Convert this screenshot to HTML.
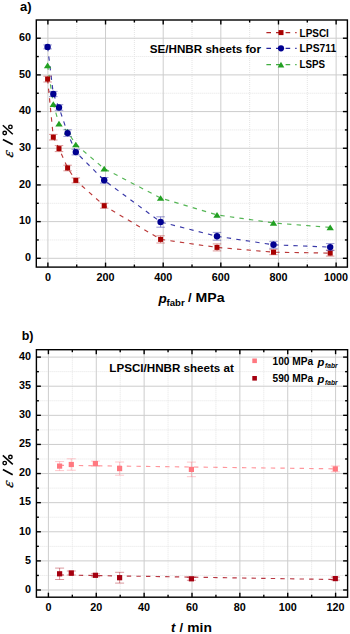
<!DOCTYPE html>
<html><head><meta charset="utf-8"><title>figure</title>
<style>html,body{margin:0;padding:0;background:#fff;} body{width:350px;height:634px;overflow:hidden;font-family:"Liberation Sans", sans-serif;} svg{display:block;}</style>
</head><body>
<svg width="350" height="634" viewBox="0 0 350 634">
<rect width="350" height="634" fill="#fff"/>
<line x1="76.72" y1="20.00" x2="76.72" y2="267.10" stroke="#e4e4e4" stroke-width="1" stroke-dasharray="1 1"/>
<line x1="134.37" y1="20.00" x2="134.37" y2="267.10" stroke="#e4e4e4" stroke-width="1" stroke-dasharray="1 1"/>
<line x1="192.01" y1="20.00" x2="192.01" y2="267.10" stroke="#e4e4e4" stroke-width="1" stroke-dasharray="1 1"/>
<line x1="249.65" y1="20.00" x2="249.65" y2="267.10" stroke="#e4e4e4" stroke-width="1" stroke-dasharray="1 1"/>
<line x1="307.30" y1="20.00" x2="307.30" y2="267.10" stroke="#e4e4e4" stroke-width="1" stroke-dasharray="1 1"/>
<line x1="36.30" y1="239.96" x2="347.40" y2="239.96" stroke="#e4e4e4" stroke-width="1" stroke-dasharray="1 1"/>
<line x1="36.30" y1="203.28" x2="347.40" y2="203.28" stroke="#e4e4e4" stroke-width="1" stroke-dasharray="1 1"/>
<line x1="36.30" y1="166.60" x2="347.40" y2="166.60" stroke="#e4e4e4" stroke-width="1" stroke-dasharray="1 1"/>
<line x1="36.30" y1="129.92" x2="347.40" y2="129.92" stroke="#e4e4e4" stroke-width="1" stroke-dasharray="1 1"/>
<line x1="36.30" y1="93.24" x2="347.40" y2="93.24" stroke="#e4e4e4" stroke-width="1" stroke-dasharray="1 1"/>
<line x1="36.30" y1="56.56" x2="347.40" y2="56.56" stroke="#e4e4e4" stroke-width="1" stroke-dasharray="1 1"/>
<line x1="47.90" y1="20.00" x2="47.90" y2="267.10" stroke="#cdcdcd" stroke-width="1"/>
<line x1="105.54" y1="20.00" x2="105.54" y2="267.10" stroke="#cdcdcd" stroke-width="1"/>
<line x1="163.19" y1="20.00" x2="163.19" y2="267.10" stroke="#cdcdcd" stroke-width="1"/>
<line x1="220.83" y1="20.00" x2="220.83" y2="267.10" stroke="#cdcdcd" stroke-width="1"/>
<line x1="278.48" y1="20.00" x2="278.48" y2="267.10" stroke="#cdcdcd" stroke-width="1"/>
<line x1="336.12" y1="20.00" x2="336.12" y2="267.10" stroke="#cdcdcd" stroke-width="1"/>
<line x1="36.30" y1="258.30" x2="347.40" y2="258.30" stroke="#cdcdcd" stroke-width="1"/>
<line x1="36.30" y1="221.62" x2="347.40" y2="221.62" stroke="#cdcdcd" stroke-width="1"/>
<line x1="36.30" y1="184.94" x2="347.40" y2="184.94" stroke="#cdcdcd" stroke-width="1"/>
<line x1="36.30" y1="148.26" x2="347.40" y2="148.26" stroke="#cdcdcd" stroke-width="1"/>
<line x1="36.30" y1="111.58" x2="347.40" y2="111.58" stroke="#cdcdcd" stroke-width="1"/>
<line x1="36.30" y1="74.90" x2="347.40" y2="74.90" stroke="#cdcdcd" stroke-width="1"/>
<line x1="36.30" y1="38.22" x2="347.40" y2="38.22" stroke="#cdcdcd" stroke-width="1"/>
<path d="M47.60,79.10 L53.30,137.20 L59.00,148.60 L67.60,168.00 L75.80,180.40 L104.20,205.70 L160.60,239.40 L217.00,247.40 L273.50,252.20 L330.20,253.10" fill="none" stroke="#a80000" stroke-width="1.15" stroke-dasharray="4.4 5.2" opacity="0.78"/>
<path d="M47.60,65.40 L53.30,104.10 L59.00,123.60 L67.60,131.60 L75.80,144.50 L104.20,168.60 L160.60,198.00 L217.00,214.90 L273.50,222.90 L330.20,227.40" fill="none" stroke="#22a022" stroke-width="1.15" stroke-dasharray="4.4 5.2" opacity="0.78"/>
<path d="M47.60,46.90 L53.30,94.00 L59.00,107.50 L67.60,133.10 L75.80,152.10 L104.20,180.30 L160.60,222.00 L217.00,236.30 L273.50,244.80 L330.20,247.10" fill="none" stroke="#000090" stroke-width="1.15" stroke-dasharray="4.4 5.2" opacity="0.78"/>
<path d="M47.60,76.20 V82.00 M43.35,76.20 H51.85 M43.35,82.00 H51.85" stroke="#a80000" stroke-width="0.75" fill="none" opacity="0.55"/>
<rect x="45.10" y="76.60" width="5.00" height="5.00" fill="#a80000"/>
<path d="M53.30,134.40 V140.00 M49.05,134.40 H57.55 M49.05,140.00 H57.55" stroke="#a80000" stroke-width="0.75" fill="none" opacity="0.55"/>
<rect x="50.80" y="134.70" width="5.00" height="5.00" fill="#a80000"/>
<path d="M59.00,145.60 V151.60 M54.75,145.60 H63.25 M54.75,151.60 H63.25" stroke="#a80000" stroke-width="0.75" fill="none" opacity="0.55"/>
<rect x="56.50" y="146.10" width="5.00" height="5.00" fill="#a80000"/>
<path d="M67.60,165.20 V170.80 M63.35,165.20 H71.85 M63.35,170.80 H71.85" stroke="#a80000" stroke-width="0.75" fill="none" opacity="0.55"/>
<rect x="65.10" y="165.50" width="5.00" height="5.00" fill="#a80000"/>
<path d="M75.80,177.90 V182.90 M71.55,177.90 H80.05 M71.55,182.90 H80.05" stroke="#a80000" stroke-width="0.75" fill="none" opacity="0.55"/>
<rect x="73.30" y="177.90" width="5.00" height="5.00" fill="#a80000"/>
<path d="M104.20,203.20 V208.20 M99.95,203.20 H108.45 M99.95,208.20 H108.45" stroke="#a80000" stroke-width="0.75" fill="none" opacity="0.55"/>
<rect x="101.70" y="203.20" width="5.00" height="5.00" fill="#a80000"/>
<path d="M160.60,235.80 V243.00 M156.35,235.80 H164.85 M156.35,243.00 H164.85" stroke="#a80000" stroke-width="0.75" fill="none" opacity="0.55"/>
<rect x="158.10" y="236.90" width="5.00" height="5.00" fill="#a80000"/>
<path d="M217.00,243.90 V250.90 M212.75,243.90 H221.25 M212.75,250.90 H221.25" stroke="#a80000" stroke-width="0.75" fill="none" opacity="0.55"/>
<rect x="214.50" y="244.90" width="5.00" height="5.00" fill="#a80000"/>
<path d="M273.50,249.70 V254.70 M269.25,249.70 H277.75 M269.25,254.70 H277.75" stroke="#a80000" stroke-width="0.75" fill="none" opacity="0.55"/>
<rect x="271.00" y="249.70" width="5.00" height="5.00" fill="#a80000"/>
<path d="M330.20,250.10 V256.10 M325.95,250.10 H334.45 M325.95,256.10 H334.45" stroke="#a80000" stroke-width="0.75" fill="none" opacity="0.55"/>
<rect x="327.70" y="250.60" width="5.00" height="5.00" fill="#a80000"/>
<path d="M47.60,62.55 L51.30,68.25 L43.90,68.25 Z" fill="#22a022"/>
<path d="M53.30,101.25 L57.00,106.95 L49.60,106.95 Z" fill="#22a022"/>
<path d="M59.00,120.75 L62.70,126.45 L55.30,126.45 Z" fill="#22a022"/>
<path d="M67.60,128.75 L71.30,134.45 L63.90,134.45 Z" fill="#22a022"/>
<path d="M75.80,141.65 L79.50,147.35 L72.10,147.35 Z" fill="#22a022"/>
<path d="M104.20,165.75 L107.90,171.45 L100.50,171.45 Z" fill="#22a022"/>
<path d="M160.60,195.15 L164.30,200.85 L156.90,200.85 Z" fill="#22a022"/>
<path d="M217.00,212.05 L220.70,217.75 L213.30,217.75 Z" fill="#22a022"/>
<path d="M273.50,220.05 L277.20,225.75 L269.80,225.75 Z" fill="#22a022"/>
<path d="M330.20,224.55 L333.90,230.25 L326.50,230.25 Z" fill="#22a022"/>
<path d="M47.60,44.90 V48.90 M43.35,44.90 H51.85 M43.35,48.90 H51.85" stroke="#000090" stroke-width="0.75" fill="none" opacity="0.55"/>
<circle cx="47.60" cy="46.90" r="3.20" fill="#000090"/>
<path d="M53.30,91.40 V96.60 M49.05,91.40 H57.55 M49.05,96.60 H57.55" stroke="#000090" stroke-width="0.75" fill="none" opacity="0.55"/>
<circle cx="53.30" cy="94.00" r="3.20" fill="#000090"/>
<path d="M59.00,104.70 V110.30 M54.75,104.70 H63.25 M54.75,110.30 H63.25" stroke="#000090" stroke-width="0.75" fill="none" opacity="0.55"/>
<circle cx="59.00" cy="107.50" r="3.20" fill="#000090"/>
<path d="M67.60,129.80 V136.40 M63.35,129.80 H71.85 M63.35,136.40 H71.85" stroke="#000090" stroke-width="0.75" fill="none" opacity="0.55"/>
<circle cx="67.60" cy="133.10" r="3.20" fill="#000090"/>
<path d="M75.80,149.30 V154.90 M71.55,149.30 H80.05 M71.55,154.90 H80.05" stroke="#000090" stroke-width="0.75" fill="none" opacity="0.55"/>
<circle cx="75.80" cy="152.10" r="3.20" fill="#000090"/>
<path d="M104.20,177.50 V183.10 M99.95,177.50 H108.45 M99.95,183.10 H108.45" stroke="#000090" stroke-width="0.75" fill="none" opacity="0.55"/>
<circle cx="104.20" cy="180.30" r="3.20" fill="#000090"/>
<path d="M160.60,216.80 V227.20 M156.35,216.80 H164.85 M156.35,227.20 H164.85" stroke="#000090" stroke-width="0.75" fill="none" opacity="0.55"/>
<circle cx="160.60" cy="222.00" r="3.20" fill="#000090"/>
<path d="M217.00,232.40 V240.20 M212.75,232.40 H221.25 M212.75,240.20 H221.25" stroke="#000090" stroke-width="0.75" fill="none" opacity="0.55"/>
<circle cx="217.00" cy="236.30" r="3.20" fill="#000090"/>
<path d="M273.50,241.30 V248.30 M269.25,241.30 H277.75 M269.25,248.30 H277.75" stroke="#000090" stroke-width="0.75" fill="none" opacity="0.55"/>
<circle cx="273.50" cy="244.80" r="3.20" fill="#000090"/>
<path d="M330.20,243.60 V250.60 M325.95,243.60 H334.45 M325.95,250.60 H334.45" stroke="#000090" stroke-width="0.75" fill="none" opacity="0.55"/>
<circle cx="330.20" cy="247.10" r="3.20" fill="#000090"/>
<rect x="36.30" y="20.00" width="311.10" height="247.10" fill="none" stroke="#000" stroke-width="1.4"/>
<line x1="47.90" y1="267.10" x2="47.90" y2="262.60" stroke="#000" stroke-width="1.4"/>
<line x1="47.90" y1="20.00" x2="47.90" y2="24.50" stroke="#000" stroke-width="1.4"/>
<line x1="105.54" y1="267.10" x2="105.54" y2="262.60" stroke="#000" stroke-width="1.4"/>
<line x1="105.54" y1="20.00" x2="105.54" y2="24.50" stroke="#000" stroke-width="1.4"/>
<line x1="163.19" y1="267.10" x2="163.19" y2="262.60" stroke="#000" stroke-width="1.4"/>
<line x1="163.19" y1="20.00" x2="163.19" y2="24.50" stroke="#000" stroke-width="1.4"/>
<line x1="220.83" y1="267.10" x2="220.83" y2="262.60" stroke="#000" stroke-width="1.4"/>
<line x1="220.83" y1="20.00" x2="220.83" y2="24.50" stroke="#000" stroke-width="1.4"/>
<line x1="278.48" y1="267.10" x2="278.48" y2="262.60" stroke="#000" stroke-width="1.4"/>
<line x1="278.48" y1="20.00" x2="278.48" y2="24.50" stroke="#000" stroke-width="1.4"/>
<line x1="336.12" y1="267.10" x2="336.12" y2="262.60" stroke="#000" stroke-width="1.4"/>
<line x1="336.12" y1="20.00" x2="336.12" y2="24.50" stroke="#000" stroke-width="1.4"/>
<line x1="76.72" y1="267.10" x2="76.72" y2="264.60" stroke="#000" stroke-width="1.4"/>
<line x1="76.72" y1="20.00" x2="76.72" y2="22.50" stroke="#000" stroke-width="1.4"/>
<line x1="134.37" y1="267.10" x2="134.37" y2="264.60" stroke="#000" stroke-width="1.4"/>
<line x1="134.37" y1="20.00" x2="134.37" y2="22.50" stroke="#000" stroke-width="1.4"/>
<line x1="192.01" y1="267.10" x2="192.01" y2="264.60" stroke="#000" stroke-width="1.4"/>
<line x1="192.01" y1="20.00" x2="192.01" y2="22.50" stroke="#000" stroke-width="1.4"/>
<line x1="249.65" y1="267.10" x2="249.65" y2="264.60" stroke="#000" stroke-width="1.4"/>
<line x1="249.65" y1="20.00" x2="249.65" y2="22.50" stroke="#000" stroke-width="1.4"/>
<line x1="307.30" y1="267.10" x2="307.30" y2="264.60" stroke="#000" stroke-width="1.4"/>
<line x1="307.30" y1="20.00" x2="307.30" y2="22.50" stroke="#000" stroke-width="1.4"/>
<line x1="36.30" y1="258.30" x2="40.80" y2="258.30" stroke="#000" stroke-width="1.4"/>
<line x1="347.40" y1="258.30" x2="342.90" y2="258.30" stroke="#000" stroke-width="1.4"/>
<line x1="36.30" y1="221.62" x2="40.80" y2="221.62" stroke="#000" stroke-width="1.4"/>
<line x1="347.40" y1="221.62" x2="342.90" y2="221.62" stroke="#000" stroke-width="1.4"/>
<line x1="36.30" y1="184.94" x2="40.80" y2="184.94" stroke="#000" stroke-width="1.4"/>
<line x1="347.40" y1="184.94" x2="342.90" y2="184.94" stroke="#000" stroke-width="1.4"/>
<line x1="36.30" y1="148.26" x2="40.80" y2="148.26" stroke="#000" stroke-width="1.4"/>
<line x1="347.40" y1="148.26" x2="342.90" y2="148.26" stroke="#000" stroke-width="1.4"/>
<line x1="36.30" y1="111.58" x2="40.80" y2="111.58" stroke="#000" stroke-width="1.4"/>
<line x1="347.40" y1="111.58" x2="342.90" y2="111.58" stroke="#000" stroke-width="1.4"/>
<line x1="36.30" y1="74.90" x2="40.80" y2="74.90" stroke="#000" stroke-width="1.4"/>
<line x1="347.40" y1="74.90" x2="342.90" y2="74.90" stroke="#000" stroke-width="1.4"/>
<line x1="36.30" y1="38.22" x2="40.80" y2="38.22" stroke="#000" stroke-width="1.4"/>
<line x1="347.40" y1="38.22" x2="342.90" y2="38.22" stroke="#000" stroke-width="1.4"/>
<line x1="36.30" y1="239.96" x2="38.80" y2="239.96" stroke="#000" stroke-width="1.4"/>
<line x1="347.40" y1="239.96" x2="344.90" y2="239.96" stroke="#000" stroke-width="1.4"/>
<line x1="36.30" y1="203.28" x2="38.80" y2="203.28" stroke="#000" stroke-width="1.4"/>
<line x1="347.40" y1="203.28" x2="344.90" y2="203.28" stroke="#000" stroke-width="1.4"/>
<line x1="36.30" y1="166.60" x2="38.80" y2="166.60" stroke="#000" stroke-width="1.4"/>
<line x1="347.40" y1="166.60" x2="344.90" y2="166.60" stroke="#000" stroke-width="1.4"/>
<line x1="36.30" y1="129.92" x2="38.80" y2="129.92" stroke="#000" stroke-width="1.4"/>
<line x1="347.40" y1="129.92" x2="344.90" y2="129.92" stroke="#000" stroke-width="1.4"/>
<line x1="36.30" y1="93.24" x2="38.80" y2="93.24" stroke="#000" stroke-width="1.4"/>
<line x1="347.40" y1="93.24" x2="344.90" y2="93.24" stroke="#000" stroke-width="1.4"/>
<line x1="36.30" y1="56.56" x2="38.80" y2="56.56" stroke="#000" stroke-width="1.4"/>
<line x1="347.40" y1="56.56" x2="344.90" y2="56.56" stroke="#000" stroke-width="1.4"/>
<text x="31.00" y="261.10" font-family='"Liberation Sans", sans-serif' font-size="10.8" font-weight="bold" font-style="normal" text-anchor="end" >0</text>
<text x="31.00" y="224.42" font-family='"Liberation Sans", sans-serif' font-size="10.8" font-weight="bold" font-style="normal" text-anchor="end" >10</text>
<text x="31.00" y="187.74" font-family='"Liberation Sans", sans-serif' font-size="10.8" font-weight="bold" font-style="normal" text-anchor="end" >20</text>
<text x="31.00" y="151.06" font-family='"Liberation Sans", sans-serif' font-size="10.8" font-weight="bold" font-style="normal" text-anchor="end" >30</text>
<text x="31.00" y="114.38" font-family='"Liberation Sans", sans-serif' font-size="10.8" font-weight="bold" font-style="normal" text-anchor="end" >40</text>
<text x="31.00" y="77.70" font-family='"Liberation Sans", sans-serif' font-size="10.8" font-weight="bold" font-style="normal" text-anchor="end" >50</text>
<text x="31.00" y="41.02" font-family='"Liberation Sans", sans-serif' font-size="10.8" font-weight="bold" font-style="normal" text-anchor="end" >60</text>
<text x="47.90" y="280.60" font-family='"Liberation Sans", sans-serif' font-size="10.8" font-weight="bold" font-style="normal" text-anchor="middle" >0</text>
<text x="105.54" y="280.60" font-family='"Liberation Sans", sans-serif' font-size="10.8" font-weight="bold" font-style="normal" text-anchor="middle" >200</text>
<text x="163.19" y="280.60" font-family='"Liberation Sans", sans-serif' font-size="10.8" font-weight="bold" font-style="normal" text-anchor="middle" >400</text>
<text x="220.83" y="280.60" font-family='"Liberation Sans", sans-serif' font-size="10.8" font-weight="bold" font-style="normal" text-anchor="middle" >600</text>
<text x="278.48" y="280.60" font-family='"Liberation Sans", sans-serif' font-size="10.8" font-weight="bold" font-style="normal" text-anchor="middle" >800</text>
<text x="336.12" y="280.60" font-family='"Liberation Sans", sans-serif' font-size="10.8" font-weight="bold" font-style="normal" text-anchor="middle" >1000</text>
<line x1="266.4" y1="32.6" x2="296.6" y2="32.6" stroke="#a80000" stroke-width="1.25" stroke-dasharray="4.6 5.0" opacity="0.85"/>
<rect x="278.50" y="30.10" width="5.00" height="5.00" fill="#a80000"/>
<text x="299.60" y="36.70" font-family='"Liberation Sans", sans-serif' font-size="10.6" font-weight="bold" font-style="normal" text-anchor="start" textLength="29.3" lengthAdjust="spacingAndGlyphs">LPSCI</text>
<line x1="266.4" y1="48.3" x2="296.6" y2="48.3" stroke="#000090" stroke-width="1.25" stroke-dasharray="4.6 5.0" opacity="0.85"/>
<circle cx="281.00" cy="48.30" r="3.10" fill="#000090"/>
<text x="299.60" y="52.40" font-family='"Liberation Sans", sans-serif' font-size="10.6" font-weight="bold" font-style="normal" text-anchor="start" textLength="36.5" lengthAdjust="spacingAndGlyphs">LPS711</text>
<line x1="266.4" y1="64.6" x2="296.6" y2="64.6" stroke="#22a022" stroke-width="1.25" stroke-dasharray="4.6 5.0" opacity="0.85"/>
<path d="M281.00,61.80 L284.30,67.40 L277.70,67.40 Z" fill="#22a022"/>
<text x="299.60" y="68.10" font-family='"Liberation Sans", sans-serif' font-size="10.6" font-weight="bold" font-style="normal" text-anchor="start" textLength="25.5" lengthAdjust="spacingAndGlyphs">LSPS</text>
<text x="149.80" y="52.70" font-family='"Liberation Sans", sans-serif' font-size="10.9" font-weight="bold" font-style="normal" text-anchor="start" textLength="111.2" lengthAdjust="spacingAndGlyphs">SE/HNBR sheets for</text>
<text x="20.10" y="10.80" font-family='"Liberation Sans", sans-serif' font-size="13" font-weight="bold" font-style="normal" text-anchor="start" >a)</text>
<text x="158.40" y="303.30" font-family='"Liberation Sans", sans-serif' font-size="13.5" font-weight="bold" font-style="italic" text-anchor="start" >p</text>
<text x="166.60" y="305.70" font-family='"Liberation Sans", sans-serif' font-size="9.6" font-weight="bold" font-style="normal" text-anchor="start" >fabr</text>
<text x="188.00" y="302.00" font-family='"Liberation Sans", sans-serif' font-size="13" font-weight="bold" font-style="normal" text-anchor="start" >/</text>
<text x="195.60" y="302.00" font-family='"Liberation Sans", sans-serif' font-size="13" font-weight="bold" font-style="normal" text-anchor="start" textLength="29.0" lengthAdjust="spacingAndGlyphs">MPa</text>
<g transform="translate(13.40,157.20) rotate(-90)">
<text x="-0.9" y="0" transform="skewX(-14) scale(1,0.92)" font-family='"Liberation Serif", serif' font-style="italic" font-size="16" stroke="#000" stroke-width="0.25">ε</text>
</g>
<line x1="2.9" y1="139.50" x2="12.7" y2="144.60" stroke="#000" stroke-width="1.7"/>
<line x1="2.8" y1="125.30" x2="12.8" y2="134.30" stroke="#000" stroke-width="1.5"/>
<circle cx="10.4" cy="126.90" r="1.75" fill="none" stroke="#000" stroke-width="1.4"/>
<circle cx="4.7" cy="133.00" r="1.75" fill="none" stroke="#000" stroke-width="1.4"/>
<line x1="72.33" y1="349.70" x2="72.33" y2="597.20" stroke="#e4e4e4" stroke-width="1" stroke-dasharray="1 1"/>
<line x1="120.20" y1="349.70" x2="120.20" y2="597.20" stroke="#e4e4e4" stroke-width="1" stroke-dasharray="1 1"/>
<line x1="168.06" y1="349.70" x2="168.06" y2="597.20" stroke="#e4e4e4" stroke-width="1" stroke-dasharray="1 1"/>
<line x1="215.93" y1="349.70" x2="215.93" y2="597.20" stroke="#e4e4e4" stroke-width="1" stroke-dasharray="1 1"/>
<line x1="263.80" y1="349.70" x2="263.80" y2="597.20" stroke="#e4e4e4" stroke-width="1" stroke-dasharray="1 1"/>
<line x1="311.66" y1="349.70" x2="311.66" y2="597.20" stroke="#e4e4e4" stroke-width="1" stroke-dasharray="1 1"/>
<line x1="36.40" y1="575.44" x2="347.60" y2="575.44" stroke="#e4e4e4" stroke-width="1" stroke-dasharray="1 1"/>
<line x1="36.40" y1="546.33" x2="347.60" y2="546.33" stroke="#e4e4e4" stroke-width="1" stroke-dasharray="1 1"/>
<line x1="36.40" y1="517.22" x2="347.60" y2="517.22" stroke="#e4e4e4" stroke-width="1" stroke-dasharray="1 1"/>
<line x1="36.40" y1="488.11" x2="347.60" y2="488.11" stroke="#e4e4e4" stroke-width="1" stroke-dasharray="1 1"/>
<line x1="36.40" y1="458.99" x2="347.60" y2="458.99" stroke="#e4e4e4" stroke-width="1" stroke-dasharray="1 1"/>
<line x1="36.40" y1="429.88" x2="347.60" y2="429.88" stroke="#e4e4e4" stroke-width="1" stroke-dasharray="1 1"/>
<line x1="36.40" y1="400.77" x2="347.60" y2="400.77" stroke="#e4e4e4" stroke-width="1" stroke-dasharray="1 1"/>
<line x1="36.40" y1="371.66" x2="347.60" y2="371.66" stroke="#e4e4e4" stroke-width="1" stroke-dasharray="1 1"/>
<line x1="48.40" y1="349.70" x2="48.40" y2="597.20" stroke="#cdcdcd" stroke-width="1"/>
<line x1="96.27" y1="349.70" x2="96.27" y2="597.20" stroke="#cdcdcd" stroke-width="1"/>
<line x1="144.13" y1="349.70" x2="144.13" y2="597.20" stroke="#cdcdcd" stroke-width="1"/>
<line x1="192.00" y1="349.70" x2="192.00" y2="597.20" stroke="#cdcdcd" stroke-width="1"/>
<line x1="239.86" y1="349.70" x2="239.86" y2="597.20" stroke="#cdcdcd" stroke-width="1"/>
<line x1="287.73" y1="349.70" x2="287.73" y2="597.20" stroke="#cdcdcd" stroke-width="1"/>
<line x1="335.60" y1="349.70" x2="335.60" y2="597.20" stroke="#cdcdcd" stroke-width="1"/>
<line x1="36.40" y1="590.00" x2="347.60" y2="590.00" stroke="#cdcdcd" stroke-width="1"/>
<line x1="36.40" y1="560.89" x2="347.60" y2="560.89" stroke="#cdcdcd" stroke-width="1"/>
<line x1="36.40" y1="531.77" x2="347.60" y2="531.77" stroke="#cdcdcd" stroke-width="1"/>
<line x1="36.40" y1="502.66" x2="347.60" y2="502.66" stroke="#cdcdcd" stroke-width="1"/>
<line x1="36.40" y1="473.55" x2="347.60" y2="473.55" stroke="#cdcdcd" stroke-width="1"/>
<line x1="36.40" y1="444.44" x2="347.60" y2="444.44" stroke="#cdcdcd" stroke-width="1"/>
<line x1="36.40" y1="415.33" x2="347.60" y2="415.33" stroke="#cdcdcd" stroke-width="1"/>
<line x1="36.40" y1="386.21" x2="347.60" y2="386.21" stroke="#cdcdcd" stroke-width="1"/>
<line x1="36.40" y1="357.10" x2="347.60" y2="357.10" stroke="#cdcdcd" stroke-width="1"/>
<path d="M59.60,465.30 L335.30,468.85" fill="none" stroke="#ff7880" stroke-width="1.15" stroke-dasharray="4.4 5.2" opacity="0.78"/>
<path d="M59.60,574.92 L335.30,579.56" fill="none" stroke="#a50010" stroke-width="1.15" stroke-dasharray="4.4 5.2" opacity="0.78"/>
<path d="M59.60,461.60 V470.60 M55.10,461.60 H64.10 M55.10,470.60 H64.10" stroke="#ff7880" stroke-width="0.75" fill="none" opacity="0.55"/>
<rect x="57.00" y="463.50" width="5.20" height="5.20" fill="#ff7880"/>
<path d="M71.30,458.80 V470.20 M66.80,458.80 H75.80 M66.80,470.20 H75.80" stroke="#ff7880" stroke-width="0.75" fill="none" opacity="0.55"/>
<rect x="68.70" y="461.90" width="5.20" height="5.20" fill="#ff7880"/>
<path d="M95.40,461.10 V466.10 M90.90,461.10 H99.90 M90.90,466.10 H99.90" stroke="#ff7880" stroke-width="0.75" fill="none" opacity="0.55"/>
<rect x="92.80" y="461.00" width="5.20" height="5.20" fill="#ff7880"/>
<path d="M119.60,462.00 V475.20 M115.10,462.00 H124.10 M115.10,475.20 H124.10" stroke="#ff7880" stroke-width="0.75" fill="none" opacity="0.55"/>
<rect x="117.00" y="466.00" width="5.20" height="5.20" fill="#ff7880"/>
<path d="M191.40,462.10 V476.70 M186.90,462.10 H195.90 M186.90,476.70 H195.90" stroke="#ff7880" stroke-width="0.75" fill="none" opacity="0.55"/>
<rect x="188.80" y="466.80" width="5.20" height="5.20" fill="#ff7880"/>
<path d="M335.30,466.00 V471.80 M330.80,466.00 H339.80 M330.80,471.80 H339.80" stroke="#ff7880" stroke-width="0.75" fill="none" opacity="0.55"/>
<rect x="332.70" y="466.30" width="5.20" height="5.20" fill="#ff7880"/>
<path d="M59.60,568.10 V579.50 M55.10,568.10 H64.10 M55.10,579.50 H64.10" stroke="#a50010" stroke-width="0.75" fill="none" opacity="0.55"/>
<rect x="57.00" y="571.20" width="5.20" height="5.20" fill="#a50010"/>
<path d="M71.30,571.00 V575.00 M66.80,571.00 H75.80 M66.80,575.00 H75.80" stroke="#a50010" stroke-width="0.75" fill="none" opacity="0.55"/>
<rect x="68.70" y="570.40" width="5.20" height="5.20" fill="#a50010"/>
<path d="M95.40,573.80 V576.80 M90.90,573.80 H99.90 M90.90,576.80 H99.90" stroke="#a50010" stroke-width="0.75" fill="none" opacity="0.55"/>
<rect x="92.80" y="572.70" width="5.20" height="5.20" fill="#a50010"/>
<path d="M119.60,572.30 V583.10 M115.10,572.30 H124.10 M115.10,583.10 H124.10" stroke="#a50010" stroke-width="0.75" fill="none" opacity="0.55"/>
<rect x="117.00" y="575.10" width="5.20" height="5.20" fill="#a50010"/>
<path d="M191.40,577.30 V580.30 M186.90,577.30 H195.90 M186.90,580.30 H195.90" stroke="#a50010" stroke-width="0.75" fill="none" opacity="0.55"/>
<rect x="188.80" y="576.20" width="5.20" height="5.20" fill="#a50010"/>
<path d="M335.30,577.10 V580.10 M330.80,577.10 H339.80 M330.80,580.10 H339.80" stroke="#a50010" stroke-width="0.75" fill="none" opacity="0.55"/>
<rect x="332.70" y="576.00" width="5.20" height="5.20" fill="#a50010"/>
<rect x="36.40" y="349.70" width="311.20" height="247.50" fill="none" stroke="#000" stroke-width="1.4"/>
<line x1="48.40" y1="597.20" x2="48.40" y2="592.70" stroke="#000" stroke-width="1.4"/>
<line x1="48.40" y1="349.70" x2="48.40" y2="354.20" stroke="#000" stroke-width="1.4"/>
<line x1="96.27" y1="597.20" x2="96.27" y2="592.70" stroke="#000" stroke-width="1.4"/>
<line x1="96.27" y1="349.70" x2="96.27" y2="354.20" stroke="#000" stroke-width="1.4"/>
<line x1="144.13" y1="597.20" x2="144.13" y2="592.70" stroke="#000" stroke-width="1.4"/>
<line x1="144.13" y1="349.70" x2="144.13" y2="354.20" stroke="#000" stroke-width="1.4"/>
<line x1="192.00" y1="597.20" x2="192.00" y2="592.70" stroke="#000" stroke-width="1.4"/>
<line x1="192.00" y1="349.70" x2="192.00" y2="354.20" stroke="#000" stroke-width="1.4"/>
<line x1="239.86" y1="597.20" x2="239.86" y2="592.70" stroke="#000" stroke-width="1.4"/>
<line x1="239.86" y1="349.70" x2="239.86" y2="354.20" stroke="#000" stroke-width="1.4"/>
<line x1="287.73" y1="597.20" x2="287.73" y2="592.70" stroke="#000" stroke-width="1.4"/>
<line x1="287.73" y1="349.70" x2="287.73" y2="354.20" stroke="#000" stroke-width="1.4"/>
<line x1="335.60" y1="597.20" x2="335.60" y2="592.70" stroke="#000" stroke-width="1.4"/>
<line x1="335.60" y1="349.70" x2="335.60" y2="354.20" stroke="#000" stroke-width="1.4"/>
<line x1="72.33" y1="597.20" x2="72.33" y2="594.70" stroke="#000" stroke-width="1.4"/>
<line x1="72.33" y1="349.70" x2="72.33" y2="352.20" stroke="#000" stroke-width="1.4"/>
<line x1="120.20" y1="597.20" x2="120.20" y2="594.70" stroke="#000" stroke-width="1.4"/>
<line x1="120.20" y1="349.70" x2="120.20" y2="352.20" stroke="#000" stroke-width="1.4"/>
<line x1="168.06" y1="597.20" x2="168.06" y2="594.70" stroke="#000" stroke-width="1.4"/>
<line x1="168.06" y1="349.70" x2="168.06" y2="352.20" stroke="#000" stroke-width="1.4"/>
<line x1="215.93" y1="597.20" x2="215.93" y2="594.70" stroke="#000" stroke-width="1.4"/>
<line x1="215.93" y1="349.70" x2="215.93" y2="352.20" stroke="#000" stroke-width="1.4"/>
<line x1="263.80" y1="597.20" x2="263.80" y2="594.70" stroke="#000" stroke-width="1.4"/>
<line x1="263.80" y1="349.70" x2="263.80" y2="352.20" stroke="#000" stroke-width="1.4"/>
<line x1="311.66" y1="597.20" x2="311.66" y2="594.70" stroke="#000" stroke-width="1.4"/>
<line x1="311.66" y1="349.70" x2="311.66" y2="352.20" stroke="#000" stroke-width="1.4"/>
<line x1="36.40" y1="590.00" x2="40.90" y2="590.00" stroke="#000" stroke-width="1.4"/>
<line x1="347.60" y1="590.00" x2="343.10" y2="590.00" stroke="#000" stroke-width="1.4"/>
<line x1="36.40" y1="560.89" x2="40.90" y2="560.89" stroke="#000" stroke-width="1.4"/>
<line x1="347.60" y1="560.89" x2="343.10" y2="560.89" stroke="#000" stroke-width="1.4"/>
<line x1="36.40" y1="531.77" x2="40.90" y2="531.77" stroke="#000" stroke-width="1.4"/>
<line x1="347.60" y1="531.77" x2="343.10" y2="531.77" stroke="#000" stroke-width="1.4"/>
<line x1="36.40" y1="502.66" x2="40.90" y2="502.66" stroke="#000" stroke-width="1.4"/>
<line x1="347.60" y1="502.66" x2="343.10" y2="502.66" stroke="#000" stroke-width="1.4"/>
<line x1="36.40" y1="473.55" x2="40.90" y2="473.55" stroke="#000" stroke-width="1.4"/>
<line x1="347.60" y1="473.55" x2="343.10" y2="473.55" stroke="#000" stroke-width="1.4"/>
<line x1="36.40" y1="444.44" x2="40.90" y2="444.44" stroke="#000" stroke-width="1.4"/>
<line x1="347.60" y1="444.44" x2="343.10" y2="444.44" stroke="#000" stroke-width="1.4"/>
<line x1="36.40" y1="415.33" x2="40.90" y2="415.33" stroke="#000" stroke-width="1.4"/>
<line x1="347.60" y1="415.33" x2="343.10" y2="415.33" stroke="#000" stroke-width="1.4"/>
<line x1="36.40" y1="386.21" x2="40.90" y2="386.21" stroke="#000" stroke-width="1.4"/>
<line x1="347.60" y1="386.21" x2="343.10" y2="386.21" stroke="#000" stroke-width="1.4"/>
<line x1="36.40" y1="357.10" x2="40.90" y2="357.10" stroke="#000" stroke-width="1.4"/>
<line x1="347.60" y1="357.10" x2="343.10" y2="357.10" stroke="#000" stroke-width="1.4"/>
<line x1="36.40" y1="575.44" x2="38.90" y2="575.44" stroke="#000" stroke-width="1.4"/>
<line x1="347.60" y1="575.44" x2="345.10" y2="575.44" stroke="#000" stroke-width="1.4"/>
<line x1="36.40" y1="546.33" x2="38.90" y2="546.33" stroke="#000" stroke-width="1.4"/>
<line x1="347.60" y1="546.33" x2="345.10" y2="546.33" stroke="#000" stroke-width="1.4"/>
<line x1="36.40" y1="517.22" x2="38.90" y2="517.22" stroke="#000" stroke-width="1.4"/>
<line x1="347.60" y1="517.22" x2="345.10" y2="517.22" stroke="#000" stroke-width="1.4"/>
<line x1="36.40" y1="488.11" x2="38.90" y2="488.11" stroke="#000" stroke-width="1.4"/>
<line x1="347.60" y1="488.11" x2="345.10" y2="488.11" stroke="#000" stroke-width="1.4"/>
<line x1="36.40" y1="458.99" x2="38.90" y2="458.99" stroke="#000" stroke-width="1.4"/>
<line x1="347.60" y1="458.99" x2="345.10" y2="458.99" stroke="#000" stroke-width="1.4"/>
<line x1="36.40" y1="429.88" x2="38.90" y2="429.88" stroke="#000" stroke-width="1.4"/>
<line x1="347.60" y1="429.88" x2="345.10" y2="429.88" stroke="#000" stroke-width="1.4"/>
<line x1="36.40" y1="400.77" x2="38.90" y2="400.77" stroke="#000" stroke-width="1.4"/>
<line x1="347.60" y1="400.77" x2="345.10" y2="400.77" stroke="#000" stroke-width="1.4"/>
<line x1="36.40" y1="371.66" x2="38.90" y2="371.66" stroke="#000" stroke-width="1.4"/>
<line x1="347.60" y1="371.66" x2="345.10" y2="371.66" stroke="#000" stroke-width="1.4"/>
<text x="31.00" y="592.80" font-family='"Liberation Sans", sans-serif' font-size="10.8" font-weight="bold" font-style="normal" text-anchor="end" >0</text>
<text x="31.00" y="563.69" font-family='"Liberation Sans", sans-serif' font-size="10.8" font-weight="bold" font-style="normal" text-anchor="end" >5</text>
<text x="31.00" y="534.57" font-family='"Liberation Sans", sans-serif' font-size="10.8" font-weight="bold" font-style="normal" text-anchor="end" >10</text>
<text x="31.00" y="505.46" font-family='"Liberation Sans", sans-serif' font-size="10.8" font-weight="bold" font-style="normal" text-anchor="end" >15</text>
<text x="31.00" y="476.35" font-family='"Liberation Sans", sans-serif' font-size="10.8" font-weight="bold" font-style="normal" text-anchor="end" >20</text>
<text x="31.00" y="447.24" font-family='"Liberation Sans", sans-serif' font-size="10.8" font-weight="bold" font-style="normal" text-anchor="end" >25</text>
<text x="31.00" y="418.13" font-family='"Liberation Sans", sans-serif' font-size="10.8" font-weight="bold" font-style="normal" text-anchor="end" >30</text>
<text x="31.00" y="389.01" font-family='"Liberation Sans", sans-serif' font-size="10.8" font-weight="bold" font-style="normal" text-anchor="end" >35</text>
<text x="31.00" y="359.90" font-family='"Liberation Sans", sans-serif' font-size="10.8" font-weight="bold" font-style="normal" text-anchor="end" >40</text>
<text x="48.40" y="610.60" font-family='"Liberation Sans", sans-serif' font-size="10.8" font-weight="bold" font-style="normal" text-anchor="middle" >0</text>
<text x="96.27" y="610.60" font-family='"Liberation Sans", sans-serif' font-size="10.8" font-weight="bold" font-style="normal" text-anchor="middle" >20</text>
<text x="144.13" y="610.60" font-family='"Liberation Sans", sans-serif' font-size="10.8" font-weight="bold" font-style="normal" text-anchor="middle" >40</text>
<text x="192.00" y="610.60" font-family='"Liberation Sans", sans-serif' font-size="10.8" font-weight="bold" font-style="normal" text-anchor="middle" >60</text>
<text x="239.86" y="610.60" font-family='"Liberation Sans", sans-serif' font-size="10.8" font-weight="bold" font-style="normal" text-anchor="middle" >80</text>
<text x="287.73" y="610.60" font-family='"Liberation Sans", sans-serif' font-size="10.8" font-weight="bold" font-style="normal" text-anchor="middle" >100</text>
<text x="335.60" y="610.60" font-family='"Liberation Sans", sans-serif' font-size="10.8" font-weight="bold" font-style="normal" text-anchor="middle" >120</text>
<rect x="252.30" y="358.50" width="4.60" height="4.60" fill="#ff7880"/>
<rect x="252.30" y="376.00" width="4.60" height="4.60" fill="#a50010"/>
<text x="272.60" y="365.10" font-family='"Liberation Sans", sans-serif' font-size="10.1" font-weight="bold" font-style="normal" text-anchor="start" textLength="40.6" lengthAdjust="spacingAndGlyphs">100 MPa</text>
<text x="317.60" y="366.10" font-family='"Liberation Sans", sans-serif' font-size="11.2" font-weight="bold" font-style="italic" text-anchor="start" >p</text>
<text x="325.00" y="367.70" font-family='"Liberation Sans", sans-serif' font-size="7.6" font-weight="bold" font-style="italic" text-anchor="start" textLength="12.6" lengthAdjust="spacingAndGlyphs">fabr</text>
<text x="272.60" y="382.30" font-family='"Liberation Sans", sans-serif' font-size="10.1" font-weight="bold" font-style="normal" text-anchor="start" textLength="40.6" lengthAdjust="spacingAndGlyphs">590 MPa</text>
<text x="317.60" y="383.30" font-family='"Liberation Sans", sans-serif' font-size="11.2" font-weight="bold" font-style="italic" text-anchor="start" >p</text>
<text x="325.00" y="384.90" font-family='"Liberation Sans", sans-serif' font-size="7.6" font-weight="bold" font-style="italic" text-anchor="start" textLength="12.6" lengthAdjust="spacingAndGlyphs">fabr</text>
<text x="109.30" y="372.30" font-family='"Liberation Sans", sans-serif' font-size="10.8" font-weight="bold" font-style="normal" text-anchor="start" textLength="124.6" lengthAdjust="spacingAndGlyphs">LPSCI/HNBR sheets at</text>
<text x="21.70" y="340.20" font-family='"Liberation Sans", sans-serif' font-size="12.5" font-weight="bold" font-style="normal" text-anchor="start" >b)</text>
<text x="171.00" y="632.20" font-family='"Liberation Sans", sans-serif' font-size="13" font-weight="bold" font-style="italic" text-anchor="start" >t</text>
<text x="179.60" y="632.20" font-family='"Liberation Sans", sans-serif' font-size="13" font-weight="bold" font-style="normal" text-anchor="start" >/</text>
<text x="187.30" y="632.20" font-family='"Liberation Sans", sans-serif' font-size="13" font-weight="bold" font-style="normal" text-anchor="start" textLength="24.6" lengthAdjust="spacingAndGlyphs">min</text>
<g transform="translate(13.40,487.30) rotate(-90)">
<text x="-0.9" y="0" transform="skewX(-14) scale(1,0.92)" font-family='"Liberation Serif", serif' font-style="italic" font-size="16" stroke="#000" stroke-width="0.25">ε</text>
</g>
<line x1="2.9" y1="469.60" x2="12.7" y2="474.70" stroke="#000" stroke-width="1.7"/>
<line x1="2.8" y1="455.40" x2="12.8" y2="464.40" stroke="#000" stroke-width="1.5"/>
<circle cx="10.4" cy="457.00" r="1.75" fill="none" stroke="#000" stroke-width="1.4"/>
<circle cx="4.7" cy="463.10" r="1.75" fill="none" stroke="#000" stroke-width="1.4"/>
</svg>
</body></html>
